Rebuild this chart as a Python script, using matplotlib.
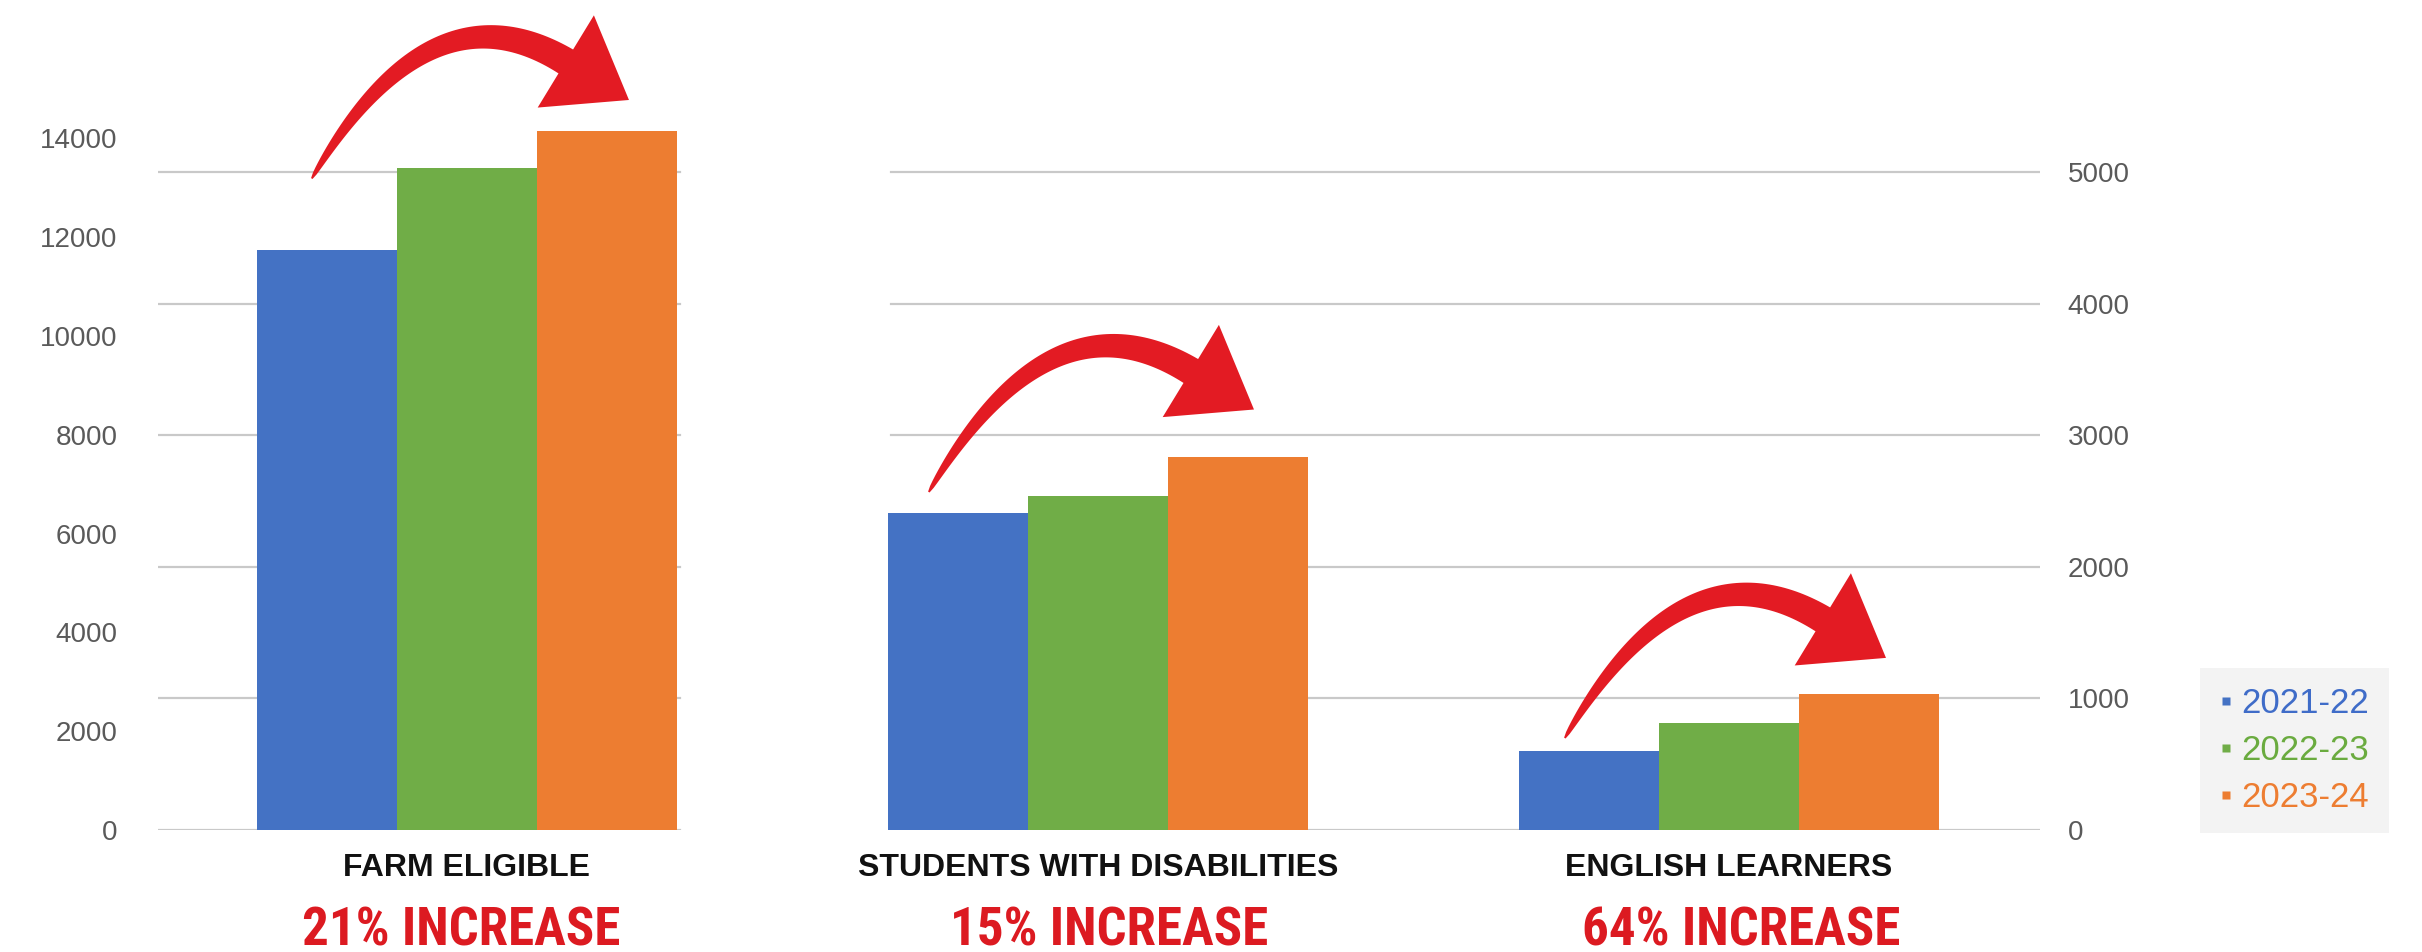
import numpy as np
import matplotlib
matplotlib.use("Agg")
import matplotlib.pyplot as plt
from matplotlib import font_manager, transforms
from matplotlib.patches import Polygon
from matplotlib.lines import Line2D

# ---------------- data ----------------
years = ["2021-22", "2022-23", "2023-24"]
categories = ["FARM ELIGIBLE", "STUDENTS WITH DISABILITIES", "ENGLISH LEARNERS"]
increase_labels = ["21% INCREASE", "15% INCREASE", "64% INCREASE"]
farm_eligible = [11750, 13400, 14150]            # left axis
students_disab = [2410, 2540, 2840]              # right axis
english_learners = [600, 810, 1035]              # right axis
left_ticks = [0, 2000, 4000, 6000, 8000, 10000, 12000, 14000]
right_ticks = [0, 1000, 2000, 3000, 4000, 5000]

# ---------------- style ----------------
colors = ["#4472c4", "#70ad47", "#ed7d31"]
legend_text_colors = ["#3f6cc8", "#6aab3f", "#ed7d31"]
red_text = "#dc1a21"
red_arrow = "#e31b23"
grid_color = "#c9c9c9"
tick_color = "#5a5a5a"
W, H = 2422, 952
bar_w = 0.222

avail = {f.name for f in font_manager.fontManager.ttflist}
base_font = "Liberation Sans" if "Liberation Sans" in avail else "DejaVu Sans"
cond_candidates = ["Roboto Condensed", "Liberation Sans Narrow", "Open Sans Condensed",
                   "DejaVu Sans Condensed", "Liberation Sans"]
cond_font = next((c for c in cond_candidates if c in avail), base_font)
plt.rcParams["font.family"] = [base_font, "DejaVu Sans"]

fig = plt.figure(figsize=(W / 100, H / 100), dpi=100)
ax = fig.add_axes([158 / W, 122 / H, 1882 / W, 750 / H])
ax2 = ax.twinx()
ax.set_zorder(ax2.get_zorder() + 1)
ax.patch.set_visible(False)

ax.set_xlim(-0.4895, 2.493)
ax.set_ylim(0, 15182)
ax2.set_ylim(0, 5703)

# gridlines (right-axis positions), split in two segments
for yv in right_ticks:
    ax2.axhline(yv, xmin=0.0, xmax=0.2774, color=grid_color, lw=1.6, zorder=0)
    ax2.axhline(yv, xmin=0.3895, xmax=1.0, color=grid_color, lw=1.6, zorder=0)

# bars
offsets = [-bar_w, 0, bar_w]
for i in range(3):
    ax.bar(0 + offsets[i], farm_eligible[i], width=bar_w, color=colors[i], zorder=3)
    ax2.bar([1 + offsets[i], 2 + offsets[i]], [students_disab[i], english_learners[i]],
            width=bar_w, color=colors[i], zorder=3)

# axes cosmetics
for a in (ax, ax2):
    for s in a.spines.values():
        s.set_visible(False)
    a.set_xticks([])
    a.tick_params(axis="y", length=0, labelsize=20, labelcolor=tick_color)
ax.set_yticks(left_ticks)
ax.set_yticklabels([str(v) for v in left_ticks])
ax.tick_params(axis="y", pad=29)
ax2.set_yticks(right_ticks)
ax2.set_yticklabels([str(v) for v in right_ticks])
ax2.tick_params(axis="y", pad=20)

# category labels and increase labels
blend = transforms.blended_transform_factory(ax.transData, fig.transFigure)
for g in range(3):
    fig.text(g, (H - 876) / H, categories[g], transform=blend, ha="center", va="baseline",
             fontsize=23, fontweight="bold", color="#111111")

fig.canvas.draw()
renderer = fig.canvas.get_renderer()
target_w = 318
label_dx = [-6, 11, 12]
for g in range(3):
    tr = transforms.offset_copy(blend, fig=fig, x=label_dx[g], y=0, units="dots")
    t = fig.text(g, (H - 945) / H, increase_labels[g], transform=tr, ha="center",
                 va="baseline", fontsize=40, fontweight="bold", color=red_text,
                 family=[cond_font, "DejaVu Sans"])
    wpx = t.get_window_extent(renderer).width
    t.set_fontsize(40 * target_w / wpx)


# curved arrow: tapered quadratic shaft + triangular head (pixel geometry)
def arrow_poly(T, P, head_len=74.0, head_half=54.0, shaft_w=28.0):
    T = np.asarray(T, float)
    P = np.asarray(P, float)
    hd = np.array([61.5, -37.5]); hd /= np.linalg.norm(hd)
    td = np.array([28.0, 48.0]); td /= np.linalg.norm(td)
    B = P - head_len * hd
    M = np.column_stack([td, hd])
    s, u = np.linalg.solve(M, B - T)
    C = T + s * td
    ts = np.linspace(0, 1, 80)[:, None]
    Q = (1 - ts) ** 2 * T + 2 * (1 - ts) * ts * C + ts ** 2 * B
    dQ = 2 * (1 - ts) * (C - T) + 2 * ts * (B - C)
    n = np.column_stack([-dQ[:, 1], dQ[:, 0]])
    n /= np.linalg.norm(n, axis=1)[:, None]
    w = 0.5 * shaft_w * (0.06 + 0.94 * ts ** 0.55)
    left = Q + n * w
    right = Q - n * w
    nb = np.array([-hd[1], hd[0]])
    pts = np.vstack([left, B + nb * head_half, P, B - nb * head_half, right[::-1]])
    return pts


series_by_group = [farm_eligible, students_disab, english_learners]
axes_by_group = [ax, ax2, ax2]
tail_off = [(-15, 71), (-29, 21), (-24, 13)]
tip_off = [(22, 31), (16, 47), (17, 36)]
for g in range(3):
    a = axes_by_group[g]
    vals = series_by_group[g]
    p0 = a.transData.transform((g + offsets[0], vals[0])) + np.array(tail_off[g])
    p1 = a.transData.transform((g + offsets[2], vals[2])) + np.array(tip_off[g])
    pts = arrow_poly(p0, p1)
    pts_fig = pts / np.array([W, H])
    fig.add_artist(Polygon(pts_fig, closed=True, transform=fig.transFigure,
                           facecolor=red_arrow, edgecolor="none", zorder=10))

# legend
handles = [Line2D([], [], marker="s", linestyle="none", markersize=6,
                  markerfacecolor=c, markeredgecolor="none") for c in colors]
leg = fig.legend(handles, years, loc="upper left",
                 bbox_to_anchor=(2200 / W, 1 - 668 / H), bbox_transform=fig.transFigure,
                 fontsize=25, labelcolor=legend_text_colors, frameon=True,
                 facecolor="#f3f3f3", edgecolor="none", fancybox=False, framealpha=1,
                 handlelength=0.4, handletextpad=0.25,
                 labelspacing=0.4, borderpad=0.55, borderaxespad=0)

fig.savefig("out.png", dpi=100, facecolor="white")
